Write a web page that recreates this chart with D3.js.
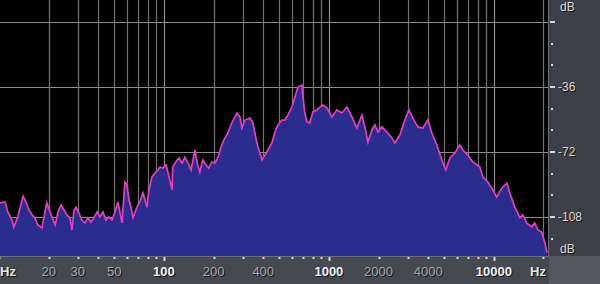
<!DOCTYPE html>
<html>
<head>
<meta charset="utf-8">
<script src="https://cdn.jsdelivr.net/npm/d3@7"></script>
<style>
  body { margin: 0; background: #000; }
  svg { display: block; }
  text { font-family: "Liberation Sans", Arial, sans-serif; }
</style>
</head>
<body>
<div class="main"></div>
<script>
// spectrum (Hz / dB)
var freqs = [10.1,10.6,10.9,11.3,12.0,12.3,13.0,14.0,14.6,15.2,15.9,16.5,17.2,18.2,19.0,19.5,20.4,21.3,21.9,22.8,
  23.8,24.8,25.8,26.9,27.7,28.5,29.3,30.5,31.8,33.2,34.6,36.1,37.6,39.3,40.9,42.7,44.5,46.4,48.4,50.5,
  52.6,55.7,58.0,59.7,61.4,63.1,64.9,68.6,71.5,74.6,78.9,81.1,84.6,88.2,92.0,94.6,98.6,103,106,112,
  113,118,123,129,134,140,146,154,159,165,172,180,187,195,204,213,222,231,244,258,
  277,289,297,310,332,346,366,393,409,427,451,471,491,519,541,564,597,622,649,686,
  696,715,736,767,800,846,882,920,973,1043,1118,1199,1286,1379,1478,1585,1653,1724,1823,1900,
  1982,2096,2246,2409,2512,2694,2888,3054,3229,3463,3713,3981,4209,4513,4840,5118,5412,5801,6222,6489,
  6958,7461,8229,8579,9197,9861,10400,11200,12000,12500,13400,14400,15000,15800,17000,17700,18500,19500,20400,21000];
var levels = [-100.2,-99.7,-99.7,-105.2,-109.7,-113.5,-108.0,-96.4,-99.7,-104.1,-106.9,-108.5,-112.4,-114.1,-105.2,-100.2,-105.2,-109.7,-112.4,-105.2,
  -101.3,-104.1,-106.9,-108.5,-115.2,-104.1,-102.5,-105.8,-109.7,-111.3,-108.5,-110.8,-108.5,-105.2,-108.0,-105.2,-109.7,-108.0,-109.7,-105.2,
  -99.7,-111.3,-88.6,-90.3,-98.6,-102.5,-108.5,-102.5,-99.7,-94.7,-102.5,-93.0,-85.8,-83.6,-82.0,-80.3,-80.9,-79.2,-83.6,-93.0,
  -80.3,-77.5,-75.3,-78.1,-74.8,-78.1,-82.0,-70.9,-78.1,-83.1,-76.4,-79.2,-80.9,-77.5,-78.1,-74.8,-69.2,-65.3,-61.5,-55.9,
  -50.4,-52.6,-58.7,-54.3,-53.2,-55.9,-67.0,-76.4,-73.7,-70.9,-67.0,-60.9,-57.0,-54.3,-54.3,-51.5,-47.1,-41.5,-36.0,-34.9,
  -41.5,-50.4,-55.4,-55.9,-49.8,-48.7,-47.1,-46.0,-47.6,-52.6,-48.7,-50.4,-47.1,-52.6,-58.7,-51.5,-58.1,-66.5,-59.8,-57.0,
  -60.9,-58.1,-60.9,-64.2,-67.0,-62.6,-54.3,-48.7,-53.2,-58.1,-58.7,-54.3,-61.5,-68.1,-76.4,-82.0,-75.3,-72.5,-68.1,-70.9,
  -73.7,-77.5,-80.3,-85.8,-88.6,-93.0,-96.9,-91.9,-89.2,-94.7,-102.5,-108.5,-106.9,-111.3,-113.5,-111.3,-115.2,-116.3,-122.4,-127.9];

var gridFreqs = [20,30,40,50,60,70,80,90,100,200,300,400,500,600,700,800,900,1000,
  2000,3000,4000,5000,6000,7000,8000,9000,10000,20000];
var majorFreqs = [100,1000,10000];
var freqLabels = [20,30,50,100,200,400,1000,2000,4000,10000];
var dbTicks = [0,-36,-72,-108];
var dbMinor = [0,-12,-24,-36,-48,-60,-72,-84,-96,-108,-120];
var dbLabels = ['', '-36', '-72', '-108'];

var W = 600, H = 284;
var plotRight = 548, plotBottom = 256;

var svg = d3.select('.main').append('svg')
    .attr('width', W)
    .attr('height', H);

var x = d3.scaleLog().domain([10, 21300]).range([-1, plotRight]);
var y = d3.scaleLinear().domain([0, -108]).range([22, 217]);

var data = freqs.map(function(f, i) { return {f: f, db: levels[i]}; });

// backgrounds
svg.append('rect').attr('width', W).attr('height', H).attr('fill', '#000');
svg.append('rect').attr('x', 0).attr('y', plotBottom).attr('width', W).attr('height', H - plotBottom).attr('fill', '#46494f');
svg.append('rect').attr('x', plotRight + 1).attr('y', 0).attr('width', W - plotRight - 1).attr('height', plotBottom).attr('fill', '#3d4046');
svg.append('rect').attr('x', plotRight + 1).attr('y', plotBottom).attr('width', W - plotRight - 1).attr('height', H - plotBottom).attr('fill', '#55585d');

// grid
svg.append('g').selectAll('line')
    .data(gridFreqs)
    .enter().append('line')
    .attr('x1', function(d) { return Math.round(x(d)) + 0.5; })
    .attr('x2', function(d) { return Math.round(x(d)) + 0.5; })
    .attr('y1', 0).attr('y2', plotBottom)
    .attr('stroke', function(d) { return majorFreqs.indexOf(d) >= 0 ? '#8e8e8e' : '#727272'; })
    .attr('stroke-width', 1.2);

svg.append('g').selectAll('line')
    .data(dbTicks)
    .enter().append('line')
    .attr('x1', 0).attr('x2', plotRight)
    .attr('y1', function(d) { return Math.round(y(d)) + 0.5; })
    .attr('y2', function(d) { return Math.round(y(d)) + 0.5; })
    .attr('stroke', '#8a8a8a')
    .attr('stroke-width', 1.2);

// spectrum
var area = d3.area()
    .x(function(d) { return x(d.f); })
    .y0(plotBottom)
    .y1(function(d) { return y(d.db); });
var line = d3.line()
    .x(function(d) { return x(d.f); })
    .y(function(d) { return y(d.db); });

svg.append('path').datum(data).attr('d', area).attr('fill', '#2a2d8e');
svg.append('path').datum(data).attr('d', line)
    .attr('fill', 'none').attr('stroke', '#e23fc6').attr('stroke-width', 1.7);

// axis borders
svg.append('line').attr('x1', 0).attr('x2', plotRight + 1).attr('y1', plotBottom + 0.5).attr('y2', plotBottom + 0.5).attr('stroke', '#6d7076');
svg.append('line').attr('x1', plotRight + 0.5).attr('x2', plotRight + 0.5).attr('y1', 0).attr('y2', plotBottom).attr('stroke', '#6d7076');

// bottom ticks
svg.append('g').selectAll('rect')
    .data([10].concat(gridFreqs))
    .enter().append('rect')
    .attr('x', function(d) { return Math.round(x(d)) - 0.5; })
    .attr('y', plotBottom + 1)
    .attr('width', 2)
    .attr('height', function(d) { return majorFreqs.indexOf(d) >= 0 ? 4 : 2; })
    .attr('fill', '#d8d8d8');

function label(g, txt, tx, ty, color, anchor, bold) {
  g.append('text').attr('x', tx + 1).attr('y', ty + 1).attr('text-anchor', anchor)
    .attr('font-weight', bold ? 'bold' : 'normal')
    .attr('fill', '#111').text(txt);
  g.append('text').attr('x', tx).attr('y', ty).attr('text-anchor', anchor)
    .attr('font-weight', bold ? 'bold' : 'normal')
    .attr('fill', color).text(txt);
}

var xl = svg.append('g').attr('font-size', 13);
freqLabels.forEach(function(f) {
  var major = majorFreqs.indexOf(f) >= 0;
  label(xl, String(f), x(f), 276, major ? '#f2f2f2' : '#a9abae', 'middle', major);
});
label(xl, 'Hz', 0, 276, '#e6e6e6', 'start', true);
label(xl, 'Hz', 538, 276, '#e6e6e6', 'middle', true);

// right axis
svg.append('g').selectAll('rect')
    .data(dbMinor)
    .enter().append('rect')
    .attr('x', function(d) { return dbTicks.indexOf(d) >= 0 ? 550 : 551; })
    .attr('y', function(d) { return Math.round(y(d)) - 1; })
    .attr('width', function(d) { return dbTicks.indexOf(d) >= 0 ? 5 : 2; })
    .attr('height', 2)
    .attr('fill', '#d8d8d8');

var yl = svg.append('g').attr('font-size', 12);
dbTicks.forEach(function(d, i) {
  if (dbLabels[i]) label(yl, dbLabels[i], 558, y(d) + 4, '#dcdcdc', 'start');
});
label(yl, 'dB', 560, 11, '#dcdcdc', 'start');
label(yl, 'dB', 560, 253, '#dcdcdc', 'start');
</script>
</body>
</html>
